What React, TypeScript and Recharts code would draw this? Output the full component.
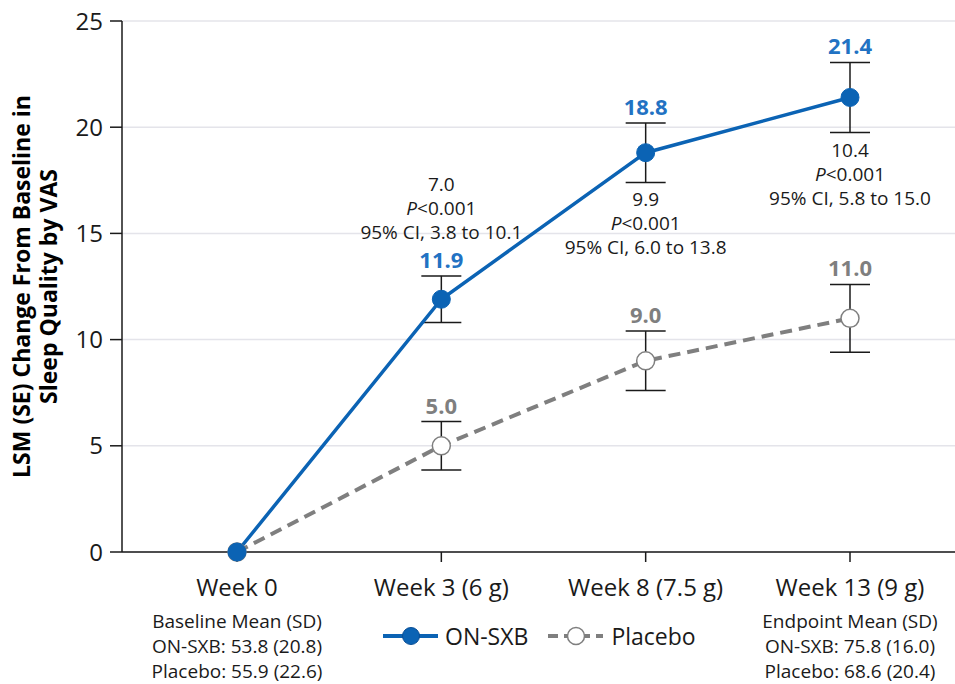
import React from 'react';
import {
  LineChart,
  Line,
  XAxis,
  YAxis,
  CartesianGrid,
  ErrorBar,
  LabelList,
  Legend,
} from 'recharts';

const FONT = '"Open Sans", "Noto Sans", sans-serif';
const BLUE = '#0b63b4';
const BLUE_TEXT = '#2272c3';
const GREY = '#7f7f7f';
const INK = '#1a1a1a';

// LSM change from baseline in sleep quality (VAS), with SE
const weeks = ['Week 0', 'Week 3 (6 g)', 'Week 8 (7.5 g)', 'Week 13 (9 g)'];
const onSxb = [0, 11.9, 18.8, 21.4];
const onSxbSe = [null, 1.1, 1.4, 1.65];
const placebo = [0, 5.0, 9.0, 11.0];
const placeboSe = [null, 1.14, 1.4, 1.6];

// treatment difference annotations
const diffs = ['', '7.0', '9.9', '10.4'];
const pValues = ['', '<0.001', '<0.001', '<0.001'];
const ciLabels = ['', '95% CI, 3.8 to 10.1', '95% CI, 6.0 to 13.8', '95% CI, 5.8 to 15.0'];
const diffAbove = [false, true, false, false];

const baselineLines = ['Baseline Mean (SD)', 'ON-SXB: 53.8 (20.8)', 'Placebo: 55.9 (22.6)'];
const endpointLines = ['Endpoint Mean (SD)', 'ON-SXB: 75.8 (16.0)', 'Placebo: 68.6 (20.4)'];
const yTicks = [0, 5, 10, 15, 20, 25];

const data = weeks.map((week, i) => {
  const onErr = onSxbSe[i];
  const plErr = placeboSe[i];
  return {
    week,
    on: onSxb[i],
    onErr,
    onHi: onErr == null ? null : onSxb[i] + onErr,
    onLo: onErr == null ? null : onSxb[i] - onErr,
    pl: placebo[i],
    plErr,
    plHi: plErr == null ? null : placebo[i] + plErr,
  };
});

const DiffBlock = ({ x, top, i }: { x: number; top: number; i: number }) => {
  const lines = [
    <tspan key="d">{diffs[i]}</tspan>,
    <>
      <tspan fontStyle="italic">P</tspan>
      <tspan>{pValues[i]}</tspan>
    </>,
    <tspan key="c">{ciLabels[i]}</tspan>,
  ];
  return (
    <g>
      {lines.map((content, k) => (
        <text
          key={k}
          x={x}
          y={top + k * 24}
          textAnchor="middle"
          fontSize={19}
          fontFamily={FONT}
          fill={INK}
        >
          {content}
        </text>
      ))}
    </g>
  );
};

const OnHighLabel = (props: any) => {
  const { x, y, index } = props;
  if (x == null || y == null || onSxbSe[index] == null) return null;
  return (
    <g>
      <text
        x={x}
        y={y - 8}
        textAnchor="middle"
        fontSize={22}
        fontWeight="bold"
        fontFamily={FONT}
        fill={BLUE_TEXT}
      >
        {onSxb[index].toFixed(1)}
      </text>
      {diffAbove[index] && <DiffBlock x={x} top={y - 85} i={index} />}
    </g>
  );
};

const OnLowLabel = (props: any) => {
  const { x, y, index } = props;
  if (x == null || y == null || onSxbSe[index] == null || diffAbove[index]) return null;
  return <DiffBlock x={x} top={y + 24} i={index} />;
};

const PlaceboLabel = (props: any) => {
  const { x, y, index } = props;
  if (x == null || y == null || placeboSe[index] == null) return null;
  return (
    <text
      x={x}
      y={y - 8}
      textAnchor="middle"
      fontSize={22}
      fontWeight="bold"
      fontFamily={FONT}
      fill={GREY}
    >
      {placebo[index].toFixed(1)}
    </text>
  );
};

const WeekTick = (props: any) => {
  const { x, y, payload } = props;
  const i = weeks.indexOf(payload.value);
  const extra = i === 0 ? baselineLines : i === weeks.length - 1 ? endpointLines : [];
  return (
    <g fontFamily={FONT} fill={INK}>
      <text x={x} y={y + 32} textAnchor="middle" fontSize={24}>
        {payload.value}
      </text>
      {extra.map((t, k) => (
        <text key={k} x={x} y={y + 64 + k * 25} textAnchor="middle" fontSize={19}>
          {t}
        </text>
      ))}
    </g>
  );
};

const YLabel = (props: any) => {
  const { viewBox } = props;
  const cy = viewBox.y + viewBox.height / 2;
  return (
    <text
      transform="rotate(-90)"
      textAnchor="middle"
      fontSize={23}
      fontWeight="bold"
      fontFamily={FONT}
      fill="#000"
    >
      <tspan x={-cy} y={30}>
        LSM (SE) Change From Baseline in
      </tspan>
      <tspan x={-cy} y={57}>
        Sleep Quality by VAS
      </tspan>
    </text>
  );
};

const renderLegend = () => (
  <div
    style={{
      display: 'flex',
      alignItems: 'center',
      height: 32,
      fontFamily: FONT,
      fontSize: 23,
      color: INK,
      whiteSpace: 'nowrap',
    }}
  >
    <svg width={55} height={20}>
      <line x1={0} y1={10} x2={55} y2={10} stroke={BLUE} strokeWidth={4} />
      <circle cx={28} cy={10} r={8.5} fill={BLUE} stroke="#0a4f96" strokeWidth={1} />
    </svg>
    <span style={{ marginLeft: 7 }}>ON-SXB</span>
    <svg width={55} height={20} style={{ marginLeft: 20 }}>
      <line x1={0} y1={10} x2={55} y2={10} stroke={GREY} strokeWidth={4} strokeDasharray="10 6" />
      <circle cx={28} cy={10} r={8.5} fill="#fff" stroke={GREY} strokeWidth={1.5} />
    </svg>
    <span style={{ marginLeft: 8 }}>Placebo</span>
  </div>
);

export default function App() {
  return (
    <div style={{ position: 'absolute', left: 0, top: 0, background: '#fff' }}>
      <LineChart
        width={955}
        height={684}
        data={data}
        margin={{ top: 21, right: 0, bottom: 0, left: 0 }}
      >
        <CartesianGrid vertical={false} stroke="#e4e4ea" strokeWidth={1.5} />
        <XAxis
          dataKey="week"
          height={132}
          padding={{ left: 115, right: 105 }}
          tickSize={10}
          axisLine={{ stroke: INK, strokeWidth: 1.5 }}
          tickLine={{ stroke: INK, strokeWidth: 1.5 }}
          tick={<WeekTick />}
          interval={0}
        />
        <YAxis
          domain={[0, 25]}
          ticks={yTicks}
          width={122}
          tickSize={12}
          tickMargin={7}
          axisLine={{ stroke: INK, strokeWidth: 1.5 }}
          tickLine={{ stroke: INK, strokeWidth: 1.5 }}
          tick={{ fontSize: 24, fill: INK, fontFamily: FONT }}
          label={<YLabel />}
        />
        <Legend
          content={renderLegend}
          layout="horizontal"
          verticalAlign="middle"
          align="center"
          wrapperStyle={{ left: 383, top: 620, width: 340 }}
        />
        <Line
          dataKey="plHi"
          stroke="none"
          dot={false}
          activeDot={false}
          legendType="none"
          isAnimationActive={false}
        >
          <LabelList dataKey="plHi" content={<PlaceboLabel />} />
        </Line>
        <Line
          dataKey="onHi"
          stroke="none"
          dot={false}
          activeDot={false}
          legendType="none"
          isAnimationActive={false}
        >
          <LabelList dataKey="onHi" content={<OnHighLabel />} />
        </Line>
        <Line
          dataKey="onLo"
          stroke="none"
          dot={false}
          activeDot={false}
          legendType="none"
          isAnimationActive={false}
        >
          <LabelList dataKey="onLo" content={<OnLowLabel />} />
        </Line>
        <Line
          dataKey="pl"
          name="Placebo"
          stroke={GREY}
          strokeWidth={4}
          strokeDasharray="12 7"
          dot={{ r: 9, fill: '#fff', stroke: GREY, strokeWidth: 1.5, strokeDasharray: '' }}
          activeDot={false}
          isAnimationActive={false}
        >
          <ErrorBar dataKey="plErr" width={20} stroke={INK} strokeWidth={1.5} />
        </Line>
        <Line
          dataKey="on"
          name="ON-SXB"
          stroke={BLUE}
          strokeWidth={3.5}
          dot={{ r: 9, fill: BLUE, stroke: BLUE, strokeWidth: 1 }}
          activeDot={false}
          isAnimationActive={false}
        >
          <ErrorBar dataKey="onErr" width={20} stroke={INK} strokeWidth={1.5} />
        </Line>
      </LineChart>
    </div>
  );
}
